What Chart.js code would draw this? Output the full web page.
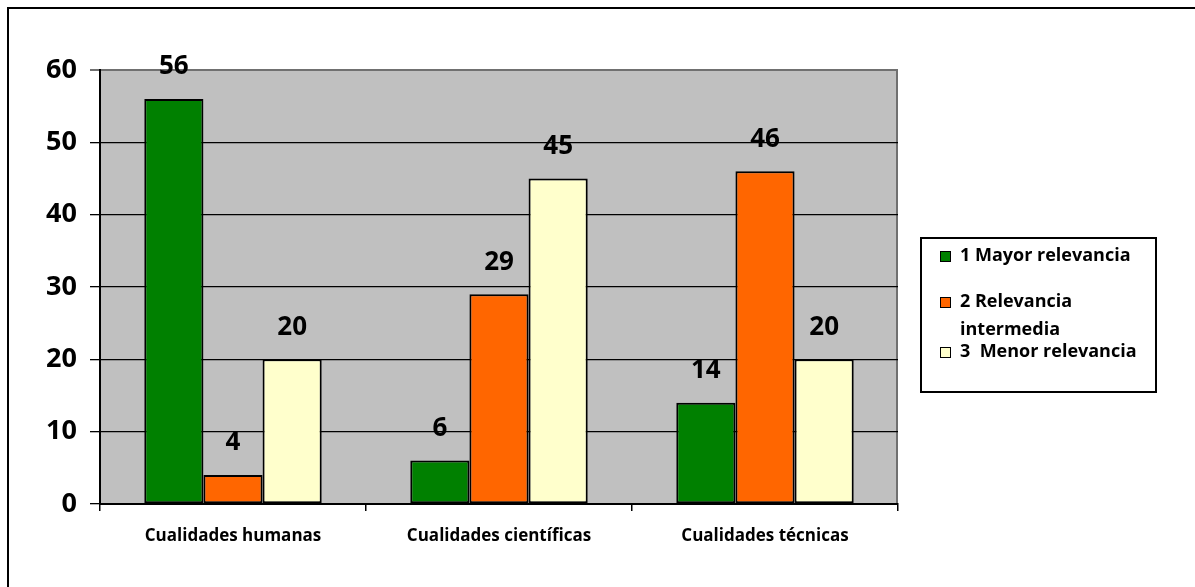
<!DOCTYPE html>
<html>
<head>
<meta charset="utf-8">
<script src="https://cdn.jsdelivr.net/npm/chart.js@4/dist/chart.umd.min.js"></script>
<style>
    html, body { margin: 0; padding: 0; background: #fff; }
    #wrap { width: 1195px; height: 587px; position: relative; }
</style>
</head>
<body>
<div id="wrap"><canvas id="chart"></canvas></div>
<script>
// Data

const categories = ["Cualidades humanas", "Cualidades científicas", "Cualidades técnicas"];
const mayorRelevancia = [56, 6, 14];
const relevanciaIntermedia = [4, 29, 46];
const menorRelevancia = [20, 45, 20];
const seriesNames = [["1 Mayor relevancia"], ["2 Relevancia", "intermedia"], ["3  Menor relevancia"]];
const yTicks = [0, 10, 20, 30, 40, 50, 60];

const FONT = "'Open Sans', Lato, sans-serif";

// Gray plot background + outer frame
const backdrop = {
    id: 'backdrop',
    beforeDraw(chart) {
        const { ctx, chartArea: a } = chart;
        ctx.save();
        ctx.strokeStyle = '#000';
        ctx.lineWidth = 2;
        ctx.strokeRect(8, 8, 1300, 700);
        ctx.fillStyle = '#C0C0C0';
        ctx.fillRect(a.left, a.top, a.right - a.left, a.bottom - a.top);
        ctx.strokeStyle = '#707070';
        ctx.lineWidth = 2;
        ctx.beginPath();
        ctx.moveTo(a.right - 1, a.top);
        ctx.lineTo(a.right - 1, a.bottom);
        ctx.stroke();
        ctx.restore();
    }
};

// Value labels above each bar
const valueLabels = {
    id: 'valueLabels',
    afterDatasetsDraw(chart) {
        const { ctx } = chart;
        ctx.save();
        ctx.font = `bold 26px ${FONT}`;
        ctx.fillStyle = '#000';
        ctx.textAlign = 'center';
        ctx.textBaseline = 'middle';
        chart.data.datasets.forEach((ds, i) => {
            chart.getDatasetMeta(i).data.forEach((bar, j) => {
                ctx.fillText(ds.data[j], bar.x, bar.y - 32);
            });
        });
        ctx.restore();
    }
};

// Legend box on the right
const sideLegend = {
    id: 'sideLegend',
    afterDraw(chart) {
        const { ctx } = chart;
        const rowY = [256, 302, 352];
        ctx.save();
        ctx.strokeStyle = '#000';
        ctx.lineWidth = 2;
        ctx.strokeRect(921, 238, 235, 154);
        ctx.font = `bold 18px ${FONT}`;
        ctx.textBaseline = 'middle';
        chart.data.datasets.forEach((ds, i) => {
            const y = rowY[i];
            ctx.fillStyle = ds.backgroundColor;
            ctx.fillRect(940, y - 5, 10, 10);
            ctx.lineWidth = 1;
            ctx.strokeRect(940.5, y - 4.5, 10, 10);
            ctx.fillStyle = '#000';
            seriesNames[i].forEach((line, k) => {
                ctx.fillText(line, 960, y + k * 28);
            });
        });
        ctx.restore();
    }
};

const barStyle = { borderColor: '#000', borderWidth: 2, borderSkipped: false };

new Chart(document.getElementById('chart'), {
    type: 'bar',
    data: {
        labels: categories,
        datasets: [
            { label: seriesNames[0].join(' '), data: mayorRelevancia, backgroundColor: '#008000', ...barStyle },
            { label: seriesNames[1].join(' '), data: relevanciaIntermedia, backgroundColor: '#FF6600', ...barStyle },
            { label: seriesNames[2].join(' '), data: menorRelevancia, backgroundColor: '#FFFFCC', ...barStyle }
        ]
    },
    options: {
        responsive: true,
        maintainAspectRatio: false,
        animation: false,
        layout: { padding: { left: 0, right: 297, top: 70, bottom: 0 } },
        datasets: { bar: { categoryPercentage: 0.667, barPercentage: 1 } },
        scales: {
            x: {
                grid: { offset: true, drawOnChartArea: false, drawTicks: true, tickLength: 7, color: '#000', lineWidth: 1.5 },
                border: { color: '#000', width: 2 },
                ticks: { color: '#000', font: { family: FONT, size: 17, weight: 'bold' }, padding: 15 },
                afterFit: s => { s.height = 83; }
            },
            y: {
                min: 0,
                max: 60,
                afterBuildTicks: s => { s.ticks = yTicks.map(v => ({ value: v })); },
                grid: { color: c => c.tick && c.tick.value === 60 ? '#707070' : '#000', lineWidth: c => c.tick && c.tick.value === 60 ? 2 : 1.3, tickLength: 10 },
                border: { color: '#000', width: 2 },
                ticks: { color: '#000', font: { family: FONT, size: 27, weight: 'bold' }, padding: 13 },
                afterFit: s => { s.width = 100; }
            }
        },
        plugins: {
            legend: { display: false },
            tooltip: { enabled: false }
        }
    },
    plugins: [backdrop, valueLabels, sideLegend]
});
</script>
</body>
</html>
